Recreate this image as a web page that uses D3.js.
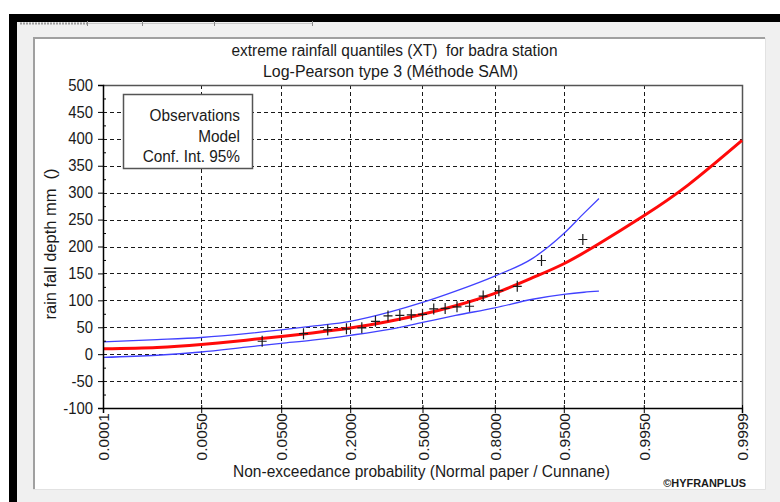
<!DOCTYPE html>
<html>
<head>
<meta charset="utf-8">
<script src="https://cdn.jsdelivr.net/npm/d3@7"></script>
<style>
  body { margin: 0; background: #fff; }
  svg { display: block; }
  text { font-family: "Liberation Sans", Arial, sans-serif; fill: #1a1a1a; white-space: pre; }
</style>
</head>
<body>
<svg id="chart" width="780" height="502"></svg>
<script>
// ---- data ----
const probTicks = [0.0001, 0.005, 0.05, 0.2, 0.5, 0.8, 0.95, 0.995, 0.9999];
const probTickLabels = ["0.0001", "0.0050", "0.0500", "0.2000", "0.5000", "0.8000", "0.9500", "0.9950", "0.9999"];
const depthTicks = [-100, -50, 0, 50, 100, 150, 200, 250, 300, 350, 400, 450, 500];
const depthMinorTicks = [-75, -25, 25, 75, 125, 175, 225, 275, 325, 375, 425, 475];

// fitted Log-Pearson type 3 quantiles
const modelProb  = [0.0001, 0.001, 0.005, 0.02, 0.05, 0.1, 0.2, 0.35, 0.5, 0.65, 0.8, 0.9, 0.95, 0.98, 0.995, 0.999, 0.9999];
const modelDepth = [10, 12.5, 18, 26, 33, 39.5, 48.5, 61, 74, 90, 113, 142, 168, 205, 257, 314, 397];

// 95% confidence interval
const confProb  = [0.0001, 0.001, 0.005, 0.02, 0.05, 0.1, 0.2, 0.35, 0.5, 0.65, 0.8, 0.9, 0.95, 0.97, 0.98];
const confUpper = [23, 27, 31, 38, 45, 52, 61, 78, 96, 117, 145, 178, 224, 262, 289];
const confLower = [-6, -2, 4, 13, 20, 26, 35, 46, 59, 72, 86, 102, 111, 115, 117];

// observed annual maxima (Cunnane plotting positions)
const obsProb  = [0.031, 0.083, 0.135, 0.188, 0.240, 0.292, 0.344, 0.396, 0.448, 0.500,
                  0.552, 0.604, 0.656, 0.708, 0.760, 0.813, 0.865, 0.917, 0.969];
const obsDepth = [24, 38, 45, 47, 49, 61, 71, 72, 73, 74, 84, 85, 88, 89, 108, 118, 126, 174, 213];

const legendItems = ["Observations", "Model", "Conf. Int. 95%"];

// ---- normal probability paper: inverse standard normal CDF (Acklam) ----
function probit(p) {
  const a = [-3.969683028665376e+01, 2.209460984245205e+02, -2.759285104469687e+02,
             1.383577518672690e+02, -3.066479806614716e+01, 2.506628277459239e+00];
  const b = [-5.447609879822406e+01, 1.615858368580409e+02, -1.556989798598866e+02,
             6.680131188771972e+01, -1.328068155288572e+01];
  const c = [-7.784894002430293e-03, -3.223964580411365e-01, -2.400758277161838e+00,
             -2.549732539343734e+00, 4.374664141464968e+00, 2.938163982698783e+00];
  const d = [7.784695709041462e-03, 3.224671290700398e-01, 2.445134137142996e+00,
             3.754408661907416e+00];
  const plow = 0.02425, phigh = 1 - plow;
  let q, r;
  if (p < plow) {
    q = Math.sqrt(-2 * Math.log(p));
    return (((((c[0]*q+c[1])*q+c[2])*q+c[3])*q+c[4])*q+c[5]) / ((((d[0]*q+d[1])*q+d[2])*q+d[3])*q+1);
  }
  if (p <= phigh) {
    q = p - 0.5; r = q * q;
    return (((((a[0]*r+a[1])*r+a[2])*r+a[3])*r+a[4])*r+a[5])*q / (((((b[0]*r+b[1])*r+b[2])*r+b[3])*r+b[4])*r+1);
  }
  q = Math.sqrt(-2 * Math.log(1 - p));
  return -(((((c[0]*q+c[1])*q+c[2])*q+c[3])*q+c[4])*q+c[5]) / ((((d[0]*q+d[1])*q+d[2])*q+d[3])*q+1);
}

(function draw() {
  const svg = d3.select("#chart");
  // slightly condensed lettering
  function condense(factor) {
    return sel => sel.each(function () {
      const w = this.getComputedTextLength();
      d3.select(this).attr("textLength", w * factor).attr("lengthAdjust", "spacingAndGlyphs");
    });
  }
  function fitWidth(width) {
    return sel => sel.attr("textLength", width).attr("lengthAdjust", "spacingAndGlyphs");
  }

  // ---- window frame ----
  svg.append("rect").attr("x", 9).attr("y", 14).attr("width", 771).attr("height", 488).attr("fill", "#000");
  svg.append("rect").attr("x", 17).attr("y", 22).attr("width", 763).attr("height", 480).attr("fill", "#f0f0f0");
  // tab strip remnants
  svg.append("line").attr("x1", 20).attr("x2", 87).attr("y1", 23.5).attr("y2", 23.5)
    .attr("stroke", "#9a9a9a").attr("stroke-width", 2).attr("stroke-dasharray", "2,1");
  svg.append("line").attr("x1", 87).attr("x2", 312).attr("y1", 23.5).attr("y2", 23.5)
    .attr("stroke", "#c8c8c8").attr("stroke-width", 1);
  [87, 142, 214, 312].forEach(t => {
    svg.append("line").attr("x1", t + 0.5).attr("x2", t + 0.5).attr("y1", 21).attr("y2", 26)
      .attr("stroke", "#8a8a8a").attr("stroke-width", 1);
  });

  // chart panel
  svg.append("rect").attr("x", 33).attr("y", 37).attr("width", 732).attr("height", 452).attr("fill", "#fff");
  svg.append("path").attr("d", "M34,489V38H765").attr("fill", "none").attr("stroke", "#a0a0a0").attr("stroke-width", 2);
  svg.append("path").attr("d", "M765.5,38V489.5H33").attr("fill", "none").attr("stroke", "#e2e2e2").attr("stroke-width", 1);

  // ---- scales ----
  const plotLeft = 103, plotRight = 742, plotTop = 85, plotBottom = 408;
  const x = d3.scaleLinear().domain([probit(0.0001), probit(0.9999)]).range([plotLeft, plotRight]);
  const y = d3.scaleLinear().domain([-100, 500]).range([plotBottom, plotTop]);
  const px = p => x(probit(p));

  // ---- grid ----
  const grid = svg.append("g").attr("stroke", "#1a1a1a").attr("stroke-width", 1).attr("stroke-dasharray", "4,3");
  depthTicks.filter(v => v > -100 && v < 500).forEach(v => {
    grid.append("line").attr("x1", plotLeft).attr("x2", plotRight)
      .attr("y1", Math.round(y(v)) + 0.5).attr("y2", Math.round(y(v)) + 0.5);
  });
  probTicks.filter(p => p > 0.0001 && p < 0.9999).forEach(p => {
    grid.append("line").attr("y1", plotTop).attr("y2", plotBottom)
      .attr("x1", Math.round(px(p)) + 0.5).attr("x2", Math.round(px(p)) + 0.5);
  });

  // plot frame (top and right)
  svg.append("path").attr("d", `M${plotLeft},${plotTop + 0.5}H${plotRight + 0.5}V${plotBottom}`)
    .attr("fill", "none").attr("stroke", "#555").attr("stroke-width", 1.5);

  // ---- series ----
  const plot = svg.append("g");
  const confLine = d3.line().x(d => px(d[0])).y(d => y(d[1])).curve(d3.curveMonotoneX);
  const modelLine = d3.line().x(d => px(d[0])).y(d => y(d[1])).curve(d3.curveNatural);

  plot.append("path").datum(d3.zip(confProb, confUpper)).attr("d", confLine)
    .attr("fill", "none").attr("stroke", "#4141ff").attr("stroke-width", 1.3);
  plot.append("path").datum(d3.zip(confProb, confLower)).attr("d", confLine)
    .attr("fill", "none").attr("stroke", "#4141ff").attr("stroke-width", 1.3);
  plot.append("path").datum(d3.zip(modelProb, modelDepth)).attr("d", modelLine)
    .attr("fill", "none").attr("stroke", "#ff0a0a").attr("stroke-width", 3);

  plot.selectAll("path.obs").data(d3.zip(obsProb, obsDepth)).join("path")
    .attr("class", "obs")
    .attr("transform", d => `translate(${px(d[0])},${y(d[1])})`)
    .attr("d", "M-4.5,0H4.5M0,-5.5V5.5")
    .attr("stroke", "#1a1a1a").attr("stroke-width", 1.2).attr("fill", "none");

  // ---- legend ----
  const lg = svg.append("g");
  lg.append("rect").attr("x", 123.5).attr("y", 94.5).attr("width", 129).attr("height", 74)
    .attr("fill", "#fff").attr("stroke", "#555").attr("stroke-width", 1.5);
  lg.selectAll("text").data(legendItems).join("text")
    .attr("x", 240).attr("y", (d, i) => 121 + i * 20.5)
    .attr("text-anchor", "end").attr("font-size", 16)
    .text(d => d).call(condense(0.96));

  // ---- axes ----
  const yAxis = svg.append("g").attr("transform", `translate(${plotLeft},0)`)
    .call(d3.axisLeft(y).tickValues(depthTicks).tickSize(5).tickPadding(5).tickFormat(d => String(d)));
  yAxis.select(".domain").attr("stroke", "#000").attr("stroke-width", 1.5);
  yAxis.selectAll(".tick line").attr("stroke", "#000");
  yAxis.selectAll("text").attr("font-size", 16).attr("font-family", null).call(condense(0.93));

  svg.append("g").attr("transform", `translate(${plotLeft},0)`)
    .call(d3.axisRight(y).tickValues(depthMinorTicks).tickSize(3).tickFormat(""))
    .call(g => g.select(".domain").remove())
    .selectAll("line").attr("stroke", "#000");

  const xAxis = svg.append("g").attr("transform", `translate(0,${plotBottom})`)
    .call(d3.axisBottom(x).tickValues(probTicks.map(probit)).tickSize(5)
      .tickFormat((d, i) => probTickLabels[i]));
  xAxis.select(".domain").attr("stroke", "#000").attr("stroke-width", 1.5);
  xAxis.selectAll(".tick line").attr("stroke", "#000").attr("y1", -3);
  xAxis.selectAll("text").attr("font-size", 15.5).attr("font-family", null)
    .attr("transform", "rotate(-90)").attr("x", -5).attr("y", 0).attr("dy", "0.36em")
    .attr("text-anchor", "end");

  // ---- titles ----
  svg.append("text").attr("x", 394.5).attr("y", 56).attr("text-anchor", "middle").attr("font-size", 16)
    .text("extreme rainfall quantiles (XT)  for badra station").call(fitWidth(326));
  svg.append("text").attr("x", 390.5).attr("y", 77).attr("text-anchor", "middle").attr("font-size", 16)
    .text("Log-Pearson type 3 (Méthode SAM)").call(fitWidth(255));
  svg.append("text").attr("transform", "translate(56,244) rotate(-90)").attr("text-anchor", "middle")
    .attr("font-size", 16).text("rain fall depth mm  ()").call(fitWidth(151));
  svg.append("text").attr("x", 421.5).attr("y", 477).attr("text-anchor", "middle").attr("font-size", 16)
    .text("Non-exceedance probability (Normal paper / Cunnane)").call(fitWidth(377));
  svg.append("text").attr("x", 746).attr("y", 487).attr("text-anchor", "end").attr("font-size", 11.5)
    .attr("font-weight", "bold").text("©HYFRANPLUS").call(condense(0.95));
})();
</script>
</body>
</html>
